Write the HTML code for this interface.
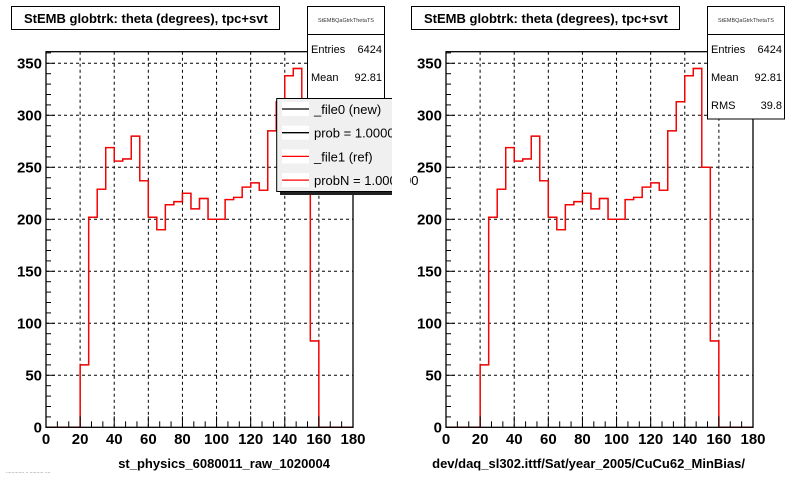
<!DOCTYPE html>
<html><head><meta charset="utf-8"><style>
body{margin:0;background:#fff;}
svg{display:block;font-family:"Liberation Sans",Arial,sans-serif;}
</style></head><body>
<svg id="c" width="800" height="480" viewBox="0 0 800 480" xmlns="http://www.w3.org/2000/svg"></svg>
<script>
const binEdgesStart = 0;
const binWidth = 5;
const newCounts = [0,0,0,0,60,202,229,269,256,258,280,237,202,190,214,217,225,210,220,200,200,219,221,231,235,228,285,313,338,345,250,83,0,0,0,0];
const refCounts = [0,0,0,0,60,202,229,269,256,258,280,237,202,190,214,217,225,210,220,200,200,219,221,231,235,228,285,313,338,345,250,83,0,0,0,0];
const xTicks = [0,20,40,60,80,100,120,140,160,180];
const yTicks = [0,50,100,150,200,250,300,350];
const statLabels = ["Entries","Mean","RMS"];
const statValues = ["6424","92.81","39.8"];
const legendLabels = ["_file0 (new)","prob = 1.000000","_file1 (ref)","probN = 1.000000"];
const legendColors = ["#000","#000","#f00","#f00"];

const NS="http://www.w3.org/2000/svg";
const svg=document.getElementById('c');
function mk(tag,attrs,parent,text){const e=document.createElementNS(NS,tag);for(const k in attrs)e.setAttribute(k,attrs[k]);if(text!==undefined)e.textContent=text;(parent||svg).appendChild(e);return e;}

function drawPad(ox, xtitle, xtitleRight, hasLegend, idx){
  const g=mk('g',{});
  
  
  const L=ox+46,R=ox+353,T=51.7,B=427.3;
  const xs=v=>L+(v-0)*(R-L)/180;
  const ys=v=>B-v*(B-63.3)/350;
  xTicks.forEach(t=>{if(t>0&&t<180){const l=mk('line',{x1:xs(t),x2:xs(t),y1:T,y2:B,stroke:'#000','stroke-dasharray':'3,3','stroke-width':1},g);}});
  yTicks.forEach(t=>{if(t>0){const l=mk('line',{x1:L,x2:R,y1:ys(t),y2:ys(t),stroke:'#000','stroke-dasharray':'3,3','stroke-width':1},g);}});
  function path(arr){let d='M'+xs(binEdgesStart)+','+ys(0);arr.forEach((v,i)=>{const x0=xs(binEdgesStart+i*binWidth),x1=xs(binEdgesStart+(i+1)*binWidth);d+=' L'+x0+','+ys(v)+' L'+x1+','+ys(v);});d+=' L'+xs(180)+','+ys(0);return d;}
  const pn=mk('path',{d:path(newCounts),fill:'none',stroke:'#000','stroke-width':1.2},g);
  
  
  const pr=mk('path',{d:path(refCounts),fill:'none',stroke:'#f00','stroke-width':1.4},g);
  
  
  const fr=mk('rect',{x:L,y:T,width:R-L,height:B-T,fill:'none',stroke:'#000','stroke-width':1.3},g);
  
  
  for(let v=0;v<=360;v+=10){const len=(v%50===0)?9:5;if(ys(v)<T)break;mk('line',{x1:L,x2:L+len,y1:ys(v),y2:ys(v),stroke:'#000'},g);}
  for(let v=0;v<=180.01;v+=20/3){const r=Math.round(v*3)%60===0;mk('line',{x1:xs(v),x2:xs(v),y1:B,y2:B-(r?11:6),stroke:'#000'},g);}
  yTicks.forEach(t=>{const e=mk('text',{x:L-4,y:ys(t)+5,'text-anchor':'end','font-size':15,'font-weight':'bold'},g,String(t));});
  xTicks.forEach(t=>{const e=mk('text',{x:xs(t),y:444,'text-anchor':'middle','font-size':15,'font-weight':'bold'},g,String(t));});
  const xt=mk('text',{x:xtitleRight,y:468,'text-anchor':'end','font-size':13,'font-weight':'bold'},g,xtitle);
  
  
  mk('rect',{x:ox+11.5,y:6.5,width:268,height:23,fill:'#fff',stroke:'#000'},g);
  const tt=mk('text',{x:ox+24,y:23,'font-size':13,'font-weight':'bold'},g,'StEMB globtrk: theta (degrees), tpc+svt');
  
  
  const sb=mk('g',{},g);
  
  
  mk('rect',{x:ox+307.5,y:6.5,width:77,height:112.5,fill:'#fff',stroke:'#000'},sb);
  mk('line',{x1:ox+307.5,x2:ox+384.5,y1:34.5,y2:34.5,stroke:'#000'},sb);
  mk('text',{x:ox+346,y:22,'text-anchor':'middle','font-size':5.5,fill:'#333'},sb,'StEMBQaGtrkThetaTS');
  statLabels.forEach((l,i)=>{mk('text',{x:ox+311,y:53+i*28,'font-size':11},sb,l);mk('text',{x:ox+382,y:53+i*28,'text-anchor':'end','font-size':11},sb,statValues[i]);});
  if(hasLegend){
    const lg=mk('g',{},g);
    
    
    mk('rect',{x:280,y:102,width:120,height:93,fill:'#222'},lg);
    mk('rect',{x:276.7,y:98.5,width:125,height:93,fill:'#f0f0f0',stroke:'#000'},lg);
    legendLabels.forEach((l,i)=>{const y=109+i*23.7;
      const en=mk('g',{},lg);
      
      
      mk('rect',{x:282,y:y-7,width:27,height:14,fill:'#fff'},en);
      mk('line',{x1:282,x2:309,y1:y,y2:y,stroke:legendColors[i],'stroke-width':1.3},en);
      mk('text',{x:314,y:y+5,'font-size':13},en,l);});
  }
}
drawPad(0,'st_physics_6080011_raw_1020004',330,true,0);
drawPad(400,'dev/daq_sl302.ittf/Sat/year_2005/CuCu62_MinBias/',745,false,1);
const cover=mk('rect',{x:392,y:90,width:18,height:110,fill:'#fff'});


const ft=mk('text',{x:6,y:473,'font-size':5,fill:'#555'},svg,'............. ..  ..........  ....');


</script>
</body></html>
